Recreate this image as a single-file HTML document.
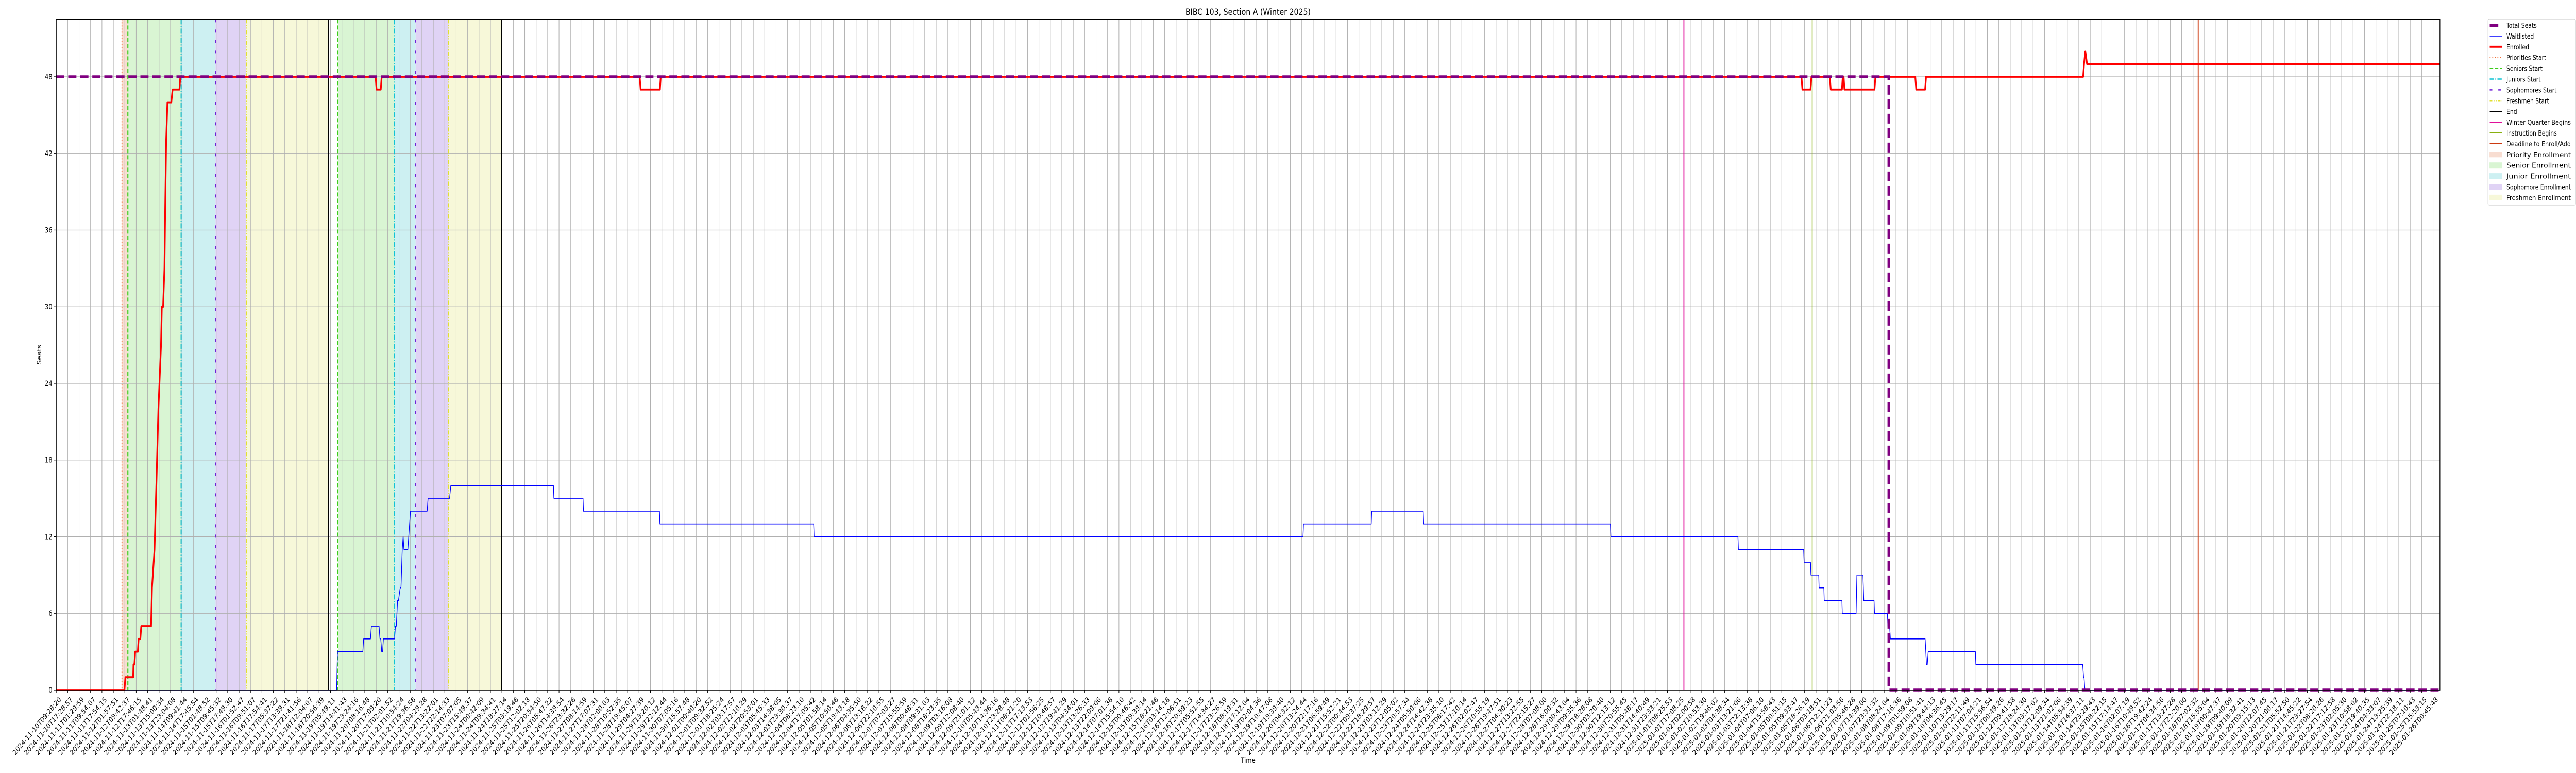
<!DOCTYPE html>
<html><head><meta charset="utf-8"><title>BIBC 103, Section A (Winter 2025)</title>
<style>html,body{margin:0;padding:0;background:#fff;overflow:hidden;width:100%;height:100%}svg{display:block;position:absolute;left:0;top:0;width:100vw;height:100vh;font-family:"DejaVu Sans","Liberation Sans",sans-serif}</style>
</head><body>
<svg id="chart" viewBox="0 0 6000 1500" preserveAspectRatio="none" overflow="hidden" xmlns="http://www.w3.org/2000/svg"></svg>
<script>
// ---- data (x in category/tick index units, y in seats) ----
const enrolledX = [0,5.97,6.05,6.73,6.76,6.84,6.91,7.14,7.21,7.36,7.44,8.30,8.38,8.60,8.79,8.94,9.17,9.24,9.35,9.47,9.54,9.62,9.73,10.07,10.18,10.78,10.86,27.95,28.03,28.40,28.48,51.06,51.14,52.83,52.90,152.73,152.81,153.52,153.60,155.21,155.29,156.27,156.34,156.42,156.49,159.12,159.20,162.69,162.77,163.55,163.63,177.38,177.46,177.57,177.72,208.6];
const enrolledY = [0,0,1,1,2,2,3,3,4,4,5,5,8,11,17,22,27,30,30,33,38,43,46,46,47,47,48,48,47,47,48,48,47,47,48,48,47,47,48,48,47,47,48,48,47,47,48,48,47,47,48,48,49,50,49,49];
const waitX = [0,24.54,24.61,26.83,26.90,27.50,27.58,28.25,28.33,28.40,28.48,28.56,28.63,29.61,29.68,29.76,29.87,29.95,30.10,30.17,30.28,30.36,30.43,30.77,31.00,32.46,32.54,34.42,34.53,43.51,43.55,46.10,46.14,52.79,52.83,66.28,66.32,109.11,109.15,115.08,115.12,119.63,119.67,136.01,136.05,147.17,147.21,152.92,152.96,153.52,153.56,154.24,154.27,154.69,154.72,156.27,156.30,157.51,157.58,158.11,158.18,159.08,159.12,160.25,160.29,160.44,160.51,163.55,163.67,163.74,163.82,167.95,167.99,177.34,177.42,177.46,177.53,208.6];
const waitY = [0,0,3,3,4,4,5,5,4,4,3,3,4,4,5,5,7,7,8,8,11,12,11,11,14,14,15,15,16,16,15,15,14,14,13,13,12,12,13,13,14,14,13,13,12,12,11,11,10,10,9,9,8,8,7,7,6,6,9,9,7,7,6,6,5,5,4,4,2,2,3,3,2,2,1,1,0,0];
const seatsX = [0,160.36,160.36,208.6];
const seatsY = [48,48,0,0];
const yTicks = [0,6,12,18,24,30,36,42,48];
const phaseNames = ["Priority Enrollment","Senior Enrollment","Junior Enrollment","Sophomore Enrollment","Freshmen Enrollment"];
const phaseStart1 = [5.75,6.27,10.93,13.94,16.64];
const phaseEnd1 = [6.27,10.93,13.94,16.64,23.82];
const phaseStart2 = [24.65,24.65,29.61,31.45,34.34];
const phaseEnd2 = [24.65,29.61,31.45,34.34,38.96];
const prioStarts = [5.75];
const seniorStarts = [6.27,24.65];
const juniorStarts = [10.93,29.61];
const sophStarts = [13.94,31.45];
const freshStarts = [16.64,34.34];
const endMarks = [23.82,38.96];
const winterBegins = [142.44];
const instructionBegins = [153.67];
const deadlineAdd = [187.45];
const knownLabels = ["2024-11-10T09:28:20","2024-11-10T17:28:57","2024-11-11T01:29:59","2024-11-11T09:54:07","2024-11-11T17:54:15","2024-11-12T01:57:51","2024-11-12T09:42:37","2024-11-12T17:46:15","2024-11-13T01:48:41","2024-11-13T15:00:34","2024-11-13T23:04:08","2024-11-14T09:41:44","2024-11-14T17:45:54","2024-11-15T01:48:52","2024-11-15T09:45:32","2024-11-15T17:49:30","2024-11-16T01:52:47","2024-11-16T09:51:07","2024-11-16T17:54:41","2024-11-17T05:37:22","2024-11-17T13:39:31","2024-11-17T21:41:56"];
const tickCount = 209;
const xLabels = [];
(function(){
  const start = Date.UTC(2024,10,10,9,28,20), end = Date.UTC(2025,0,26,0,43,16);
  const p = n => String(n).padStart(2,'0');
  for (let i=0;i<tickCount;i++){
    if (i<knownLabels.length){xLabels.push(knownLabels[i]);continue;}
    const d = new Date(start + (end-start)*i/(tickCount-1) + ((i*7919)%600)*1000);
    xLabels.push(d.getUTCFullYear()+"-"+p(d.getUTCMonth()+1)+"-"+p(d.getUTCDate())+"T"+p(d.getUTCHours())+":"+p(d.getUTCMinutes())+":"+p(d.getUTCSeconds()));
  }
})();

const L=131, R=5683, T=37.4, B=1339;
const xMin=0, xMax=208.6, yMin=0, yMax=52.5;
const sx = v => L + (v-xMin)/(xMax-xMin)*(R-L);
const sy = v => B - (v-yMin)/(yMax-yMin)*(B-T);
const NS="http://www.w3.org/2000/svg";
const svg=document.getElementById('chart');
function mk(tag, attrs, parent){const e=document.createElementNS(NS,tag);for(const k in attrs)e.setAttribute(k,attrs[k]);(parent||svg).appendChild(e);return e;}

const phaseColors=["#f8ddd1","#d9f5d3","#cdf0f2","#e0d3f5","#f7f8d9"];
const gSpans=mk('g',{});


[[phaseStart1,phaseEnd1],[phaseStart2,phaseEnd2]].forEach(([s,e],pi)=>{
  for(let i=0;i<s.length;i++){
    if(e[i]<=s[i])continue;
    const r=mk('rect',{x:sx(s[i]),y:T,width:sx(e[i])-sx(s[i]),height:B-T,fill:phaseColors[i]},gSpans);
    
    
  }
});
const gGrid=mk('g',{stroke:'#b0b0b0','stroke-width':1.2});


for(let i=0;i<tickCount;i++){const x=sx(i);mk('line',{x1:x,x2:x,y1:T,y2:B},gGrid);}
yTicks.forEach(v=>{const y=sy(v);mk('line',{x1:L,x2:R,y1:y,y2:y},gGrid);});

function vlines(arr,color,width,dash,name){
  const g=mk('g',{stroke:color,'stroke-width':width,'stroke-dasharray':dash||'none'});
  
  
  arr.forEach(v=>mk('line',{x1:sx(v),x2:sx(v),y1:T,y2:B},g));
}
vlines(prioStarts,'#ee6a30',2,'2,4','priorities-start-line');
vlines(seniorStarts,'#3ccc1a',2.5,'8,4','seniors-start-line');
vlines(juniorStarts,'#10c4d4',2.5,'10,3,2,3','juniors-start-line');
vlines(sophStarts,'#7020d8',2.5,'6,14','sophomores-start-line');
vlines(freshStarts,'#e2e030',2.5,'8,3,2,3,2,3','freshmen-start-line');
vlines(endMarks,'#000',3,null,'end-line');
vlines(winterBegins,'#e0109a',2.2,null,'winter-quarter-begins-line');
vlines(instructionBegins,'#88b010',1.8,null,'instruction-begins-line');
vlines(deadlineAdd,'#cc3a10',2.2,null,'deadline-enroll-add-line');

function path(xs,ys){let d='';for(let i=0;i<xs.length;i++)d+=(i?'L':'M')+sx(xs[i]).toFixed(2)+','+sy(ys[i]).toFixed(2);return d;}
const wl=mk('path',{d:path(waitX,waitY),fill:'none',stroke:'#0000ff','stroke-width':1.6,'stroke-linejoin':'round'});


const en=mk('path',{d:path(enrolledX,enrolledY),fill:'none',stroke:'#ff0000','stroke-width':3.8,'stroke-linejoin':'round'});


const ts=mk('path',{d:path(seatsX,seatsY),fill:'none',stroke:'#800080','stroke-width':5.5,'stroke-dasharray':'19,9'});



const frame=mk('rect',{x:L,y:T,width:R-L,height:B-T,fill:'none',stroke:'#000','stroke-width':1.5});



const gY=mk('g',{'font-size':14,fill:'#000'});


yTicks.forEach(v=>{const y=sy(v);mk('line',{x1:L-5,x2:L,y1:y,y2:y,stroke:'#000','stroke-width':1.2},gY);
  const t=mk('text',{x:L-9,y:y+5,'text-anchor':'end'},gY);t.textContent=v;
  
  });
const gX=mk('g',{'font-size':14,fill:'#000'});


for(let i=0;i<tickCount;i++){const x=sx(i);
  mk('line',{x1:x,x2:x,y1:B,y2:B+5,stroke:'#000','stroke-width':1.2},gX);
  const t=mk('text',{transform:'translate('+(x+5)+','+(B+12)+') rotate(-45)','text-anchor':'end',dy:'0.75em'},gX);
  t.textContent=xLabels[i];
  
  
}
const title=mk('text',{x:(L+R)/2,y:29,'text-anchor':'middle','font-size':17});title.textContent='BIBC 103, Section A (Winter 2025)';


const xt=mk('text',{x:(L+R)/2,y:1480,'text-anchor':'middle','font-size':14});xt.textContent='Time';


const yt=mk('text',{transform:'translate(96,'+((T+B)/2)+') rotate(-90)','text-anchor':'middle','font-size':14});yt.textContent='Seats';



const lg=mk('g',{});


mk('rect',{x:5795,y:37,width:204,height:361,rx:3,fill:'#fff',stroke:'#d0d0d0','stroke-width':1.2},lg);
const legendItems=[
 ['Total Seats','line','#800080',6,'none'],['Waitlisted','line','#0000ff',1.6,'none'],['Enrolled','line','#ff0000',3.8,'none'],
 ['Priorities Start','line','#ee6a30',2,'2,4'],['Seniors Start','line','#3ccc1a',2.5,'8,4'],['Juniors Start','line','#10c4d4',2.5,'10,3,2,3'],
 ['Sophomores Start','line','#7020d8',2.5,'6,14'],['Freshmen Start','line','#e2e030',2.5,'6,3,2,3,2,3'],['End','line','#000',2.5,'none'],
 ['Winter Quarter Begins','line','#e0109a',2,'none'],['Instruction Begins','line','#88b010',2,'none'],['Deadline to Enroll/Add','line','#cc3a10',2,'none'],
 ['Priority Enrollment','patch','#f8ddd1'],['Senior Enrollment','patch','#d9f5d3'],['Junior Enrollment','patch','#cdf0f2'],
 ['Sophomore Enrollment','patch','#e0d3f5'],['Freshmen Enrollment','patch','#f7f8d9']];
legendItems.forEach((it,i)=>{
  const y=49+i*20.9;
  const g=mk('g',{},lg);
  
  
  if(it[1]==='line'){const x2=i===0?5819:5828;mk('line',{x1:5799,x2:x2,y1:y,y2:y,stroke:it[2],'stroke-width':it[3],'stroke-dasharray':it[4]},g);}
  else mk('rect',{x:5799,y:y-5,width:28,height:10,fill:it[2],stroke:it[2]},g);
  const t=mk('text',{x:5838,y:y+5,'font-size':13,textLength:i>=9&&i!==10?150:'', lengthAdjust:'spacingAndGlyphs'},g);
  if(!(i>=9&&i!==10))t.removeAttribute('textLength');
  t.textContent=it[0];
});
</script>
</body></html>
